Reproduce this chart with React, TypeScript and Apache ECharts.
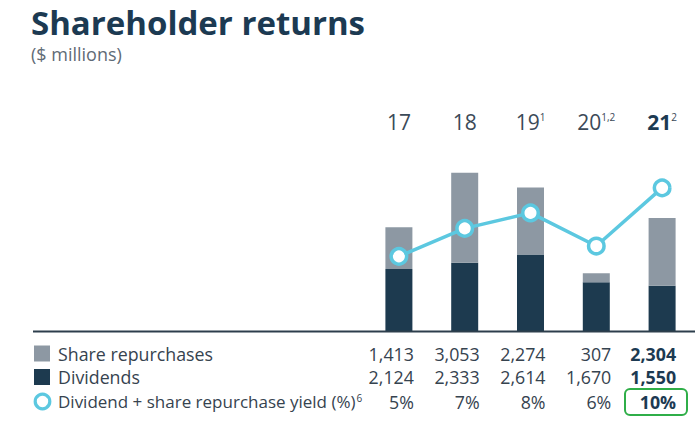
import React, { useEffect, useRef } from "react";
import * as echarts from "echarts";

const years = ["17", "18", "19", "20", "21"];
const yearNotes = ["", "", "1", "1,2", "2"];
const shareRepurchases = [1413, 3053, 2274, 307, 2304];
const dividends = [2124, 2333, 2614, 1670, 1550];
const yieldPlotted = [5.1, 7.0, 8.05, 5.8, 9.75];
const repurchaseLabels = ["1,413", "3,053", "2,274", "307", "2,304"];
const dividendLabels = ["2,124", "2,333", "2,614", "1,670", "1,550"];
const yieldLabels = ["5%", "7%", "8%", "6%", "10%"];
const rowNames = ["Share repurchases", "Dividends", "Dividend + share repurchase yield (%)"];

const NAVY = "#1d3a4f";
const GRAY = "#8d98a3";
const CYAN = "#5cc8e0";
const TEXT = "#36434f";
const FONT = "'Open Sans', sans-serif";

export default function App() {
  const ref = useRef<HTMLDivElement>(null);
  useEffect(() => {
    if (!ref.current) return;
    const chart = echarts.init(ref.current, undefined, { renderer: "svg" });
    const option: any = {
      animation: false,
      backgroundColor: "#ffffff",
      textStyle: { fontFamily: FONT },
      title: {
        text: "Shareholder returns",
        subtext: "($ millions)",
        left: 31,
        top: 5,
        padding: 0,
        itemGap: 4,
        textStyle: { fontFamily: FONT, fontSize: 33, fontWeight: "bold", color: "#1c3a52", lineHeight: 34 },
        subtextStyle: { fontFamily: FONT, fontSize: 18, color: "#5f6b76", lineHeight: 22 },
      },
      grid: { left: 366, right: 5, top: 140, bottom: 94.5 },
      xAxis: {
        type: "category",
        position: "top",
        data: years,
        axisLine: { show: false },
        axisTick: { show: false },
        axisLabel: {
          interval: 0,
          margin: 8,
          formatter: (v: string, i: number) => {
            const main = i === years.length - 1 ? `{yb|${v}}` : `{y|${v}}`;
            return yearNotes[i] ? `${main}{s|${yearNotes[i]}}` : main;
          },
          rich: {
            y: { fontFamily: FONT, fontSize: 21, color: "#3b4a58" },
            yb: { fontFamily: FONT, fontSize: 21, fontWeight: "bold", color: "#1c3a52" },
            s: { fontFamily: FONT, fontSize: 10, color: "#3b4a58", padding: [0, 0, 10, 0] },
          },
        },
      },
      yAxis: [
        { type: "value", min: 0, max: 6500, show: false },
        { type: "value", min: 0, max: 13, show: false },
      ],
      series: [
        {
          name: "Dividends",
          type: "bar",
          stack: "total",
          barWidth: 27,
          data: dividends,
          itemStyle: { color: NAVY },
        },
        {
          name: "Share repurchases",
          type: "bar",
          stack: "total",
          barWidth: 27,
          data: shareRepurchases,
          itemStyle: { color: GRAY },
        },
        {
          name: "Dividend + share repurchase yield (%)",
          type: "line",
          yAxisIndex: 1,
          data: yieldPlotted,
          symbol: "circle",
          symbolSize: 15.5,
          lineStyle: { color: CYAN, width: 3.5 },
          itemStyle: { color: "#ffffff", borderColor: CYAN, borderWidth: 3.5 },
          z: 5,
        },
      ],
    };
    chart.setOption(option);

    const xs = years.map((_, i) => chart.convertToPixel({ xAxisIndex: 0 }, i) as number);
    const y0 = chart.convertToPixel({ yAxisIndex: 0 }, 0) as number;
    const rowY = [353.5, 377, 401.5];
    const rows = [repurchaseLabels, dividendLabels, yieldLabels];
    const graphics: any[] = [
      {
        type: "line",
        shape: { x1: 33, y1: y0, x2: 695, y2: y0 },
        style: { stroke: "#2d3e4c", lineWidth: 2 },
        z: 10,
      },
      { type: "rect", shape: { x: 34, y: rowY[0] - 8, width: 16, height: 16 }, style: { fill: GRAY } },
      { type: "rect", shape: { x: 34, y: rowY[1] - 8, width: 16, height: 16 }, style: { fill: NAVY } },
      {
        type: "circle",
        shape: { cx: 42.5, cy: rowY[2], r: 7.3 },
        style: { fill: "#ffffff", stroke: CYAN, lineWidth: 3.2 },
      },
      {
        type: "rect",
        shape: { x: 625, y: 389, width: 62, height: 26, r: 5 },
        style: { fill: "none", stroke: "#2fae48", lineWidth: 2 },
      },
    ];
    rowNames.forEach((name, r) => {
      const fs = r === 2 ? 17 : 17.8;
      graphics.push({
        type: "text",
        x: 58,
        y: rowY[r],
        style: {
          text: r === 2 ? `{n|${name}}{s|6}` : `{n|${name}}`,
          rich: {
            n: { fontFamily: FONT, fontSize: fs, fill: TEXT },
            s: { fontFamily: FONT, fontSize: 10, fill: TEXT, padding: [0, 0, 8, 1] },
          },
          verticalAlign: "middle",
          textAlign: "left",
        },
      });
      rows[r].forEach((label, i) => {
        const last = i === years.length - 1;
        graphics.push({
          type: "text",
          x: xs[i] + (last ? 14 : 15),
          y: rowY[r],
          style: {
            text: label,
            fontFamily: FONT,
            fontSize: 17.8,
            fontWeight: last ? "bold" : "normal",
            fill: last ? "#1c3a52" : TEXT,
            textAlign: "right",
            verticalAlign: "middle",
          },
        });
      });
    });
    chart.setOption({ graphic: graphics });

    return () => chart.dispose();
  }, []);
  return <div ref={ref} style={{ width: 700, height: 426, position: "absolute", left: 0, top: 0 }} />;
}
